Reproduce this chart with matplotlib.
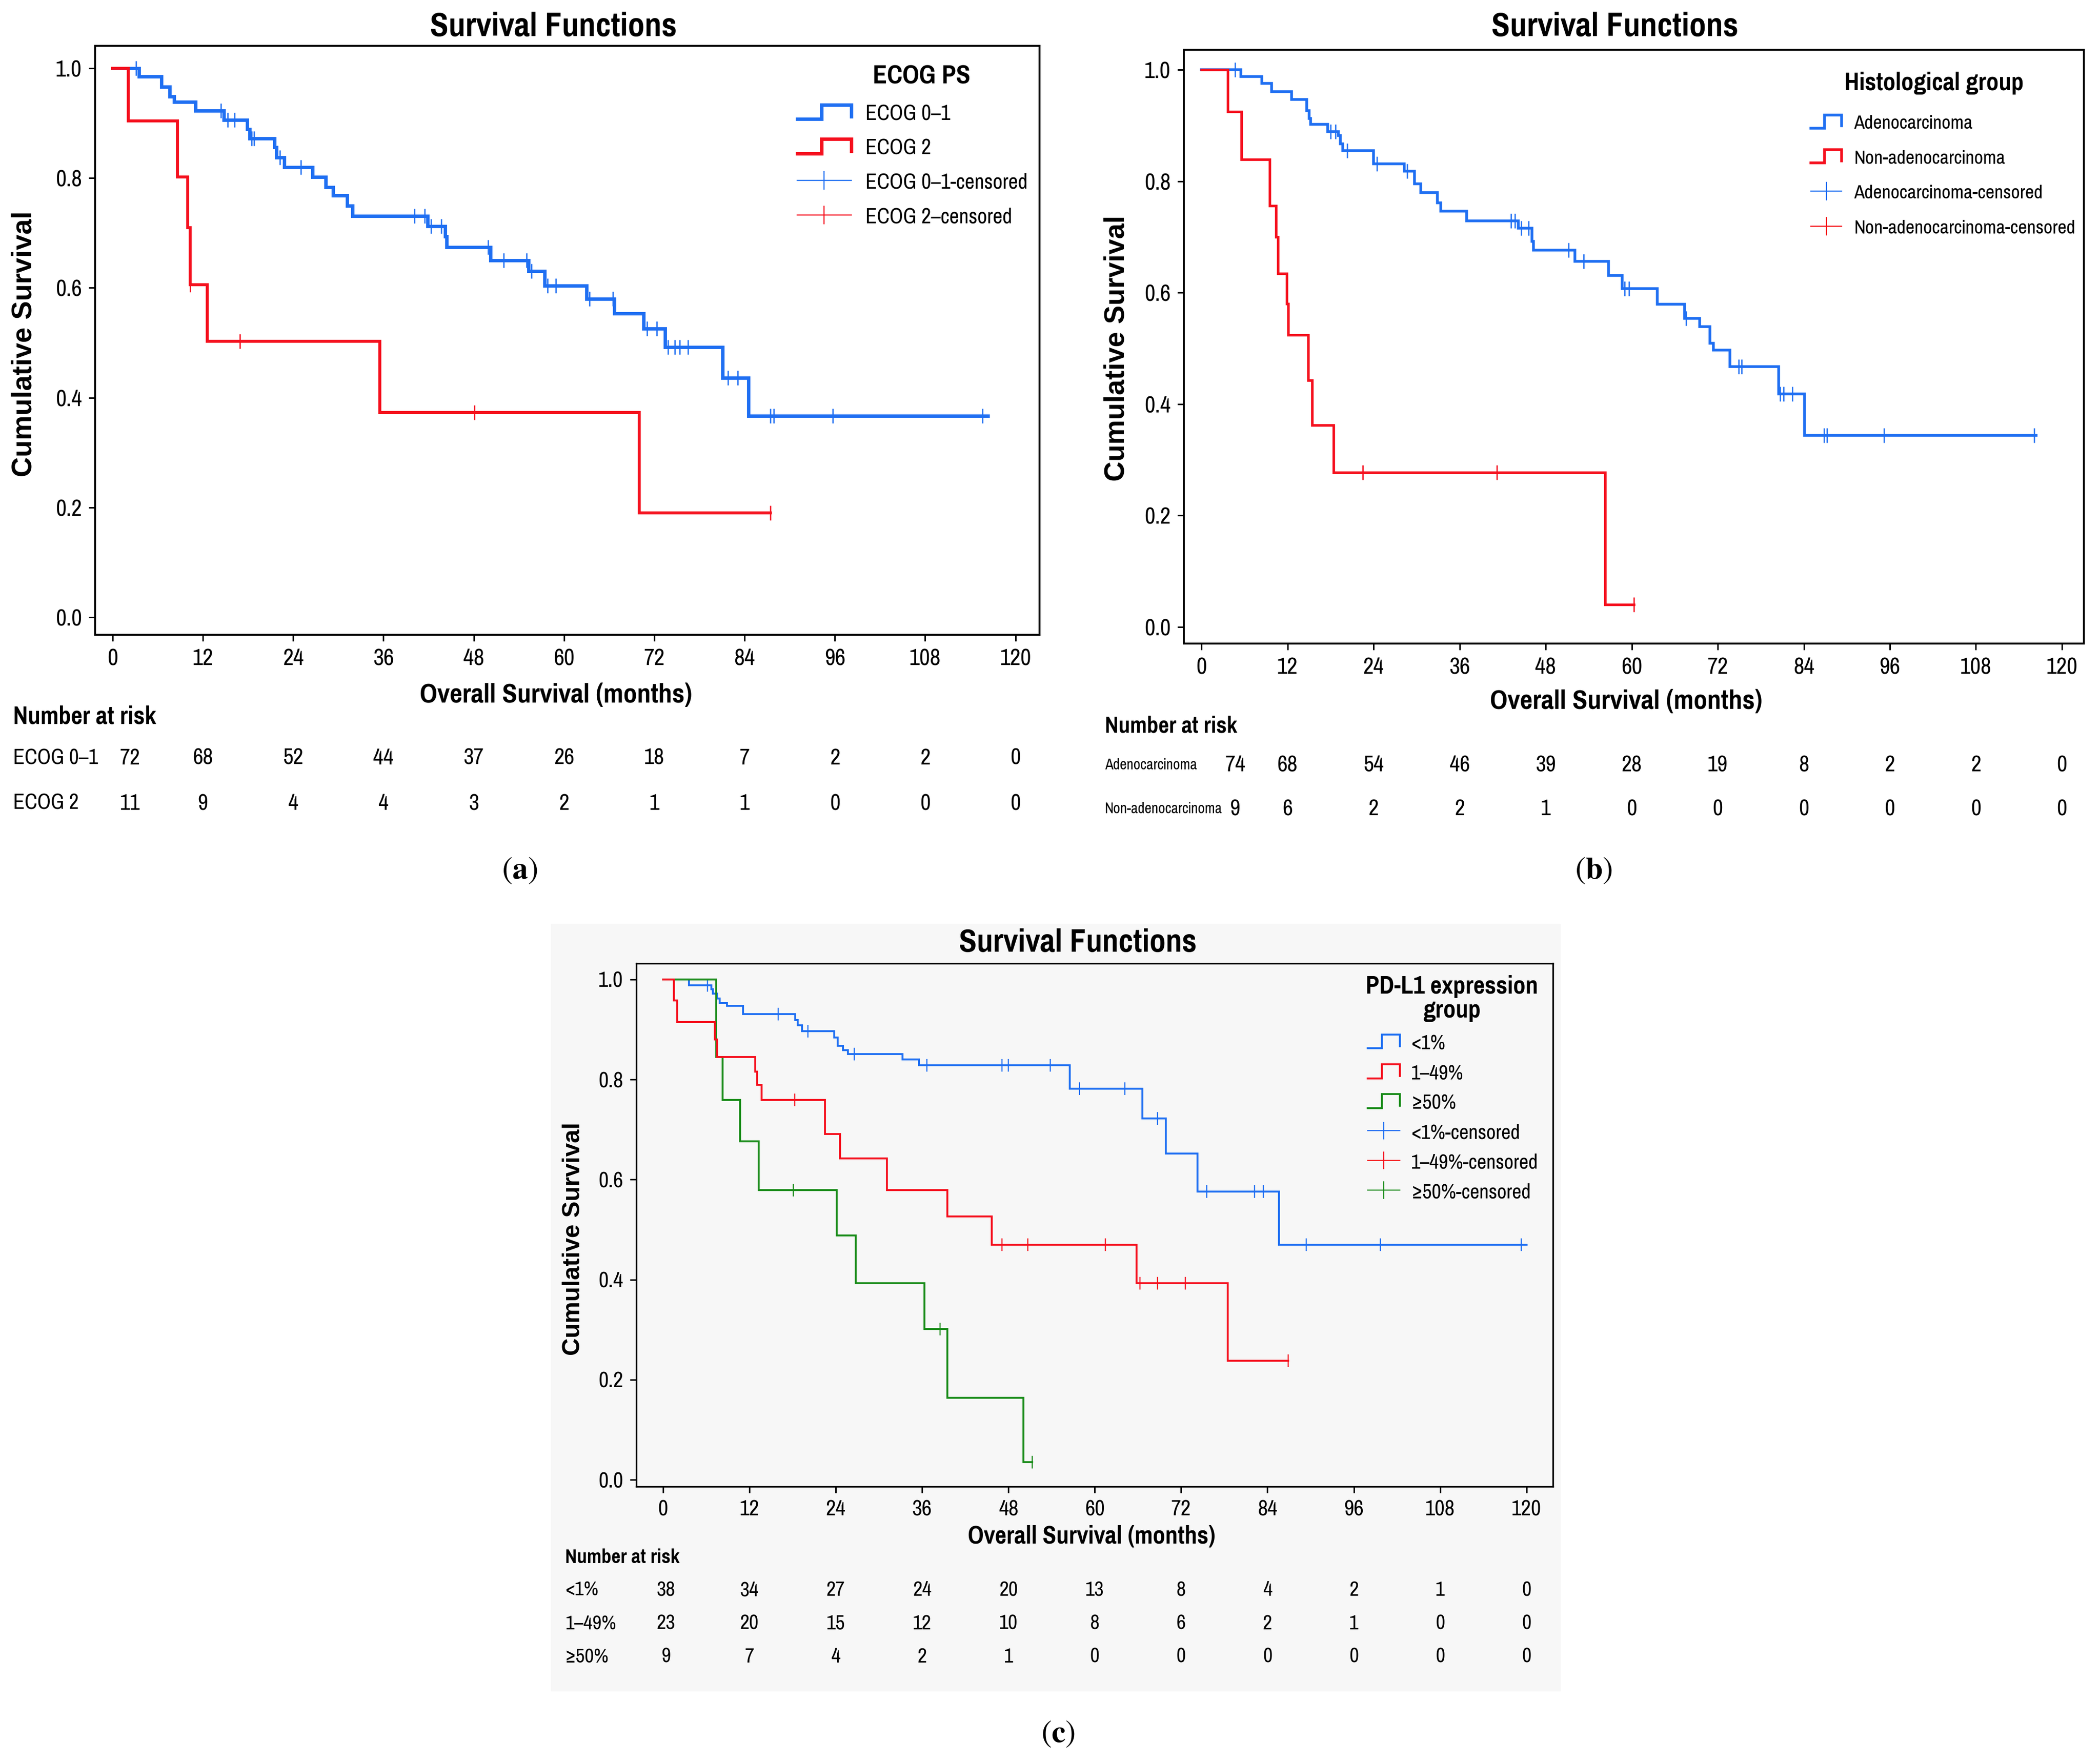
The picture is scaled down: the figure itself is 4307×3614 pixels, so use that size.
import numpy as np
import matplotlib
matplotlib.use("Agg")
import matplotlib.pyplot as plt
import matplotlib.transforms as mtransforms
from matplotlib import font_manager
from matplotlib.lines import Line2D
from matplotlib.patches import Rectangle
from matplotlib.legend_handler import HandlerBase

# ---------------- data ----------------
risk_months = [0, 12, 24, 36, 48, 60, 72, 84, 96, 108, 120]

# (a) ECOG PS
ecog01_times = [0, 3.5, 6.5, 7.6, 8.2, 11.0, 14.8, 17.9, 18.2, 21.5, 21.8, 22.8, 26.6, 28.3,
                29.3, 31.2, 31.9, 41.9, 44.2, 44.4, 50.2, 55.3, 57.4, 63.0, 66.7, 70.6, 73.4,
                81.1, 84.5]
ecog01_surv = [1.0, 0.985, 0.966, 0.949, 0.939, 0.923, 0.906, 0.889, 0.872, 0.856, 0.838, 0.820,
               0.802, 0.783, 0.768, 0.750, 0.731, 0.712, 0.694, 0.674, 0.650, 0.631, 0.604, 0.580,
               0.553, 0.526, 0.492, 0.436, 0.367]
ecog01_end = 116.3
ecog01_cens = [3.1, 14.4, 15.3, 16.2, 18.5, 18.8, 22.2, 25.0, 40.1, 41.5, 42.3, 43.7, 49.9, 52.0,
               55.0, 55.7, 57.8, 58.9, 63.4, 66.5, 71.0, 72.3, 73.8, 74.7, 75.4, 76.5, 81.8, 83.1,
               87.4, 87.9, 95.7, 115.6]

ecog2_times = [0, 2.05, 8.6, 10.0, 10.3, 12.6, 35.5, 70.0]
ecog2_surv = [1.0, 0.904, 0.802, 0.71, 0.606, 0.503, 0.373, 0.19]
ecog2_end = 87.4
ecog2_cens = [10.3, 16.9, 48.1, 87.4]

risk_ecog01 = [72, 68, 52, 44, 37, 26, 18, 7, 2, 2, 0]
risk_ecog2 = [11, 9, 4, 4, 3, 2, 1, 1, 0, 0, 0]

# (b) histological group
adeno_times = [0, 5.5, 8.4, 9.8, 12.6, 14.7, 15.0, 15.2, 17.6, 19.1, 19.4, 19.7, 24.0, 28.3,
               29.7, 30.6, 32.9, 33.4, 37.0, 44.2, 46.1, 46.3, 52.1, 56.8, 58.7, 63.6, 67.4,
               69.5, 70.9, 71.4, 73.7, 80.5, 84.1]
adeno_surv = [1.0, 0.988, 0.976, 0.961, 0.947, 0.927, 0.913, 0.902, 0.889, 0.882, 0.867, 0.855,
              0.831, 0.818, 0.795, 0.780, 0.761, 0.746, 0.729, 0.716, 0.692, 0.676, 0.656, 0.631,
              0.607, 0.579, 0.554, 0.539, 0.509, 0.497, 0.467, 0.418, 0.344]
adeno_end = 116.4
adeno_cens = [4.7, 18.0, 18.7, 20.3, 24.5, 28.7, 43.2, 43.7, 44.6, 45.6, 51.2, 53.3, 59.0, 59.6,
              67.6, 74.9, 75.3, 80.7, 81.2, 82.4, 86.8, 87.2, 95.2, 116.1]

nonadeno_times = [0, 3.65, 5.6, 9.5, 10.4, 10.7, 11.9, 12.1, 14.9, 15.4, 18.4, 56.3]
nonadeno_surv = [1.0, 0.925, 0.839, 0.756, 0.700, 0.634, 0.580, 0.524, 0.443, 0.362, 0.277, 0.04]
nonadeno_end = 60.3
nonadeno_cens = [22.5, 41.2, 60.3]

risk_adeno = [74, 68, 54, 46, 39, 28, 19, 8, 2, 2, 0]
risk_nonadeno = [9, 6, 2, 2, 1, 0, 0, 0, 0, 0, 0]

# (c) PD-L1 expression group
lt1_times = [0, 3.6, 6.7, 6.9, 7.5, 7.9, 8.9, 11.1, 18.4, 18.7, 19.3, 23.8, 24.3, 25.0, 25.7,
             33.3, 35.6, 56.5, 66.6, 69.9, 74.3, 85.6]
lt1_surv = [1.0, 0.988, 0.980, 0.972, 0.962, 0.953, 0.947, 0.931, 0.919, 0.908, 0.897, 0.884,
            0.867, 0.859, 0.851, 0.840, 0.828, 0.782, 0.722, 0.652, 0.576, 0.470]
lt1_end = 120.0
lt1_cens = [6.2, 16.0, 20.1, 26.6, 36.7, 47.1, 48.0, 53.8, 57.9, 64.2, 68.7, 75.6, 82.2, 83.4,
            89.4, 99.7, 119.3]

mid_times = [0, 1.5, 1.95, 7.2, 7.5, 12.8, 13.1, 13.7, 22.5, 24.6, 31.1, 39.5, 45.7, 65.8, 78.5]
mid_surv = [1.0, 0.958, 0.915, 0.880, 0.845, 0.816, 0.789, 0.759, 0.691, 0.642, 0.579, 0.526,
            0.470, 0.393, 0.238]
mid_end = 86.9
mid_cens = [18.3, 47.1, 50.7, 61.5, 66.3, 68.7, 72.6, 86.9]

high_times = [0, 7.4, 8.3, 10.7, 13.3, 24.1, 26.8, 36.3, 39.5, 50.1]
high_surv = [1.0, 0.845, 0.759, 0.676, 0.579, 0.488, 0.393, 0.301, 0.164, 0.035]
high_end = 51.3
high_cens = [18.1, 38.5, 51.3]

risk_lt1 = [38, 34, 27, 24, 20, 13, 8, 4, 2, 1, 0]
risk_mid = [23, 20, 15, 12, 10, 8, 6, 2, 1, 0, 0]
risk_high = [9, 7, 4, 2, 1, 0, 0, 0, 0, 0, 0]

# ---------------- styling ----------------
BLUE = "#1f6ff2"
RED = "#f5101e"
GREEN = "#1a8c1a"
W, H = 4307, 3614

names = {f.name for f in font_manager.fontManager.ttflist}
NARROW = "Liberation Sans"
for cand in ["Liberation Sans Narrow", "Arial Narrow", "Pragati Narrow", "Archivo Narrow",
             "PT Sans Narrow", "Roboto Condensed"]:
    if cand in names:
        NARROW = cand
        break
WIDE = "Liberation Sans"
plt.rcParams["font.family"] = [NARROW, "DejaVu Sans"]
plt.rcParams["mathtext.fontset"] = "stix"

fig = plt.figure(figsize=(W / 100, H / 100), dpi=100)


def fx(x):
    return x / W


def fy(y):
    return 1 - y / H


def box(l, t, r, b):
    return [fx(l), fy(b), fx(r) - fx(l), fy(t) - fy(b)]


class StepHandler(HandlerBase):
    # legend glyph shaped like a small survival step
    def create_artists(self, legend, orig_handle, xdescent, ydescent, width, height, fontsize, trans):
        x0, y0 = -xdescent, -ydescent
        xs = x0 + width * np.array([0.0, 0.45, 0.45, 1.0, 1.0])
        ys = y0 + height * np.array([0.05, 0.05, 0.95, 0.95, 0.2])
        ln = Line2D(xs, ys, color=orig_handle.get_color(), lw=orig_handle.get_linewidth(),
                    solid_joinstyle="miter")
        ln.set_transform(trans)
        return [ln]


def km(ax, times, surv, end, cens, color, lw, ms, mew):
    t = np.append(times, end)
    s = np.append(surv, surv[-1])
    ax.step(t, s, where="post", color=color, lw=lw, solid_joinstyle="miter")
    idx = np.searchsorted(times, cens, side="right") - 1
    ax.plot(cens, np.asarray(surv)[idx], ls="none", marker="|", ms=ms, mew=mew, color=color)


def style_axes(ax, xlim, ylim, tick_size, spine_w):
    ax.set_xlim(*xlim)
    ax.set_ylim(*ylim)
    ax.set_xticks(risk_months)
    ax.set_yticks([0.0, 0.2, 0.4, 0.6, 0.8, 1.0])
    ax.set_yticklabels(["0.0", "0.2", "0.4", "0.6", "0.8", "1.0"])
    ax.tick_params(direction="out", length=9.5, width=2.2, labelsize=tick_size, pad=10)
    for sp in ax.spines.values():
        sp.set_linewidth(spine_w)


def risk_table(ax, rows, labels, first_x, y_rows, label_x, label_size, num_size,
               header_xy, header_size):
    trans = mtransforms.blended_transform_factory(ax.transData, fig.transFigure)
    xs = [first_x] + risk_months[1:]
    fig.text(fx(header_xy[0]), fy(header_xy[1]), "Number at risk", fontsize=header_size,
             fontweight="bold", ha="left", va="center")
    for row, lab, yy in zip(rows, labels, y_rows):
        fig.text(fx(label_x), fy(yy), lab, fontsize=label_size, ha="left", va="center")
        for xv, n in zip(xs, row):
            ax.text(xv, fy(yy), str(n), transform=trans, fontsize=num_size,
                    ha="center", va="center")


def legend(ax, colors, labels, step_lw, cens_lw, ms, x, y, size, hl, pad, spacing):
    handles = [Line2D([], [], color=c, lw=step_lw) for c in colors]
    handles += [Line2D([], [], color=c, lw=cens_lw, marker="|", ms=ms, mew=cens_lw) for c in colors]
    hmap = {h: StepHandler() for h in handles[:len(colors)]}
    ax.legend(handles, labels, loc="upper left", bbox_to_anchor=(fx(x), fy(y)),
              bbox_transform=fig.transFigure, frameon=False, fontsize=size, numpoints=1,
              handlelength=hl, handletextpad=pad, labelspacing=spacing, borderpad=0,
              borderaxespad=0, handler_map=hmap)


# ---------------- panel (a) ----------------
ax_a = fig.add_axes(box(195, 94, 2132, 1302))
km(ax_a, ecog01_times, ecog01_surv, ecog01_end, ecog01_cens, BLUE, 5.0, 21, 1.9)
km(ax_a, ecog2_times, ecog2_surv, ecog2_end, ecog2_cens, RED, 4.4, 21, 1.9)
style_axes(ax_a, (-2.33, 123.2), (-0.032, 1.041), 37, 2.8)
fig.text(fx(1135), fy(55), "Survival Functions", fontsize=54, fontweight="bold",
         ha="center", va="center")
fig.text(fx(1140), fy(1426), "Overall Survival (months)", fontsize=44, fontweight="bold",
         ha="center", va="center")
fig.text(fx(50), fy(705), "Cumulative Survival", fontsize=41, fontweight="bold",
         family=WIDE, rotation=90, ha="center", va="center")
fig.text(fx(1890), fy(157), "ECOG PS", fontsize=42, fontweight="bold", ha="center", va="center")
legend(ax_a, [BLUE, RED], ["ECOG 0\u20131", "ECOG 2", "ECOG 0\u20131-censored", "ECOG 2\u2013censored"],
       5.0, 1.7, 28, 1635, 213, 34, 2.34, 0.62, 0.62)
risk_table(ax_a, [risk_ecog01, risk_ecog2], ["ECOG 0\u20131", "ECOG 2"], 2.3, [1555, 1648],
           27, 34, 36, (27, 1470), 40)
fig.text(fx(1066), fy(1786), r"$(\mathbf{a})$", fontsize=46, ha="center", va="center")

# ---------------- panel (b) ----------------
ax_b = fig.add_axes(box(2428, 102, 4274, 1320))
km(ax_b, adeno_times, adeno_surv, adeno_end, adeno_cens, BLUE, 4.0, 21, 1.9)
km(ax_b, nonadeno_times, nonadeno_surv, nonadeno_end, nonadeno_cens, RED, 3.8, 21, 1.9)
style_axes(ax_b, (-2.45, 123.06), (-0.030, 1.036), 37, 2.8)
fig.text(fx(3312), fy(55), "Survival Functions", fontsize=54, fontweight="bold",
         ha="center", va="center")
fig.text(fx(3335), fy(1439), "Overall Survival (months)", fontsize=44, fontweight="bold",
         ha="center", va="center")
fig.text(fx(2291), fy(714), "Cumulative Survival", fontsize=41, fontweight="bold",
         family=WIDE, rotation=90, ha="center", va="center")
fig.text(fx(3967), fy(170), "Histological group", fontsize=40, fontweight="bold",
         ha="center", va="center")
legend(ax_b, [BLUE, RED], ["Adenocarcinoma", "Non-adenocarcinoma",
                           "Adenocarcinoma-censored", "Non-adenocarcinoma-censored"],
       4.0, 1.7, 28, 3714, 234, 31, 1.47, 0.58, 0.8)
risk_table(ax_b, [risk_adeno, risk_nonadeno], ["Adenocarcinoma", "Non-adenocarcinoma"], 4.7,
           [1569, 1659], 2266, 24, 36, (2266, 1489), 37)
fig.text(fx(3269), fy(1786), r"$(\mathbf{b})$", fontsize=46, ha="center", va="center")

# ---------------- panel (c) ----------------
bg = "#f7f7f7"
fig.patches.append(Rectangle((fx(1130), fy(3468)), fx(3200) - fx(1130), fy(1895) - fy(3468),
                             transform=fig.transFigure, color=bg, zorder=-5))
ax_c = fig.add_axes(box(1305, 1976, 3185, 3049), zorder=2)
ax_c.set_facecolor(bg)
km(ax_c, lt1_times, lt1_surv, lt1_end, lt1_cens, BLUE, 2.8, 19, 1.7)
km(ax_c, high_times, high_surv, high_end, high_cens, GREEN, 2.8, 19, 1.7)
km(ax_c, mid_times, mid_surv, mid_end, mid_cens, RED, 2.8, 19, 1.7)
style_axes(ax_c, (-3.72, 123.68), (-0.0136, 1.032), 35, 2.4)
fig.text(fx(2211), fy(1934), "Survival Functions", fontsize=52, fontweight="bold",
         ha="center", va="center")
fig.text(fx(2239), fy(3151), "Overall Survival (months)", fontsize=40, fontweight="bold",
         ha="center", va="center")
fig.text(fx(1176), fy(2541), "Cumulative Survival", fontsize=36, fontweight="bold",
         family=WIDE, rotation=90, ha="center", va="center")
fig.text(fx(2978), fy(2048), "PD-L1 expression\ngroup", fontsize=40, fontweight="bold",
         ha="center", va="center", linespacing=1.05)
legend(ax_c, [BLUE, RED, GREEN], ["<1%", "1\u201349%", "\u226550%", "<1%-censored",
                                  "1\u201349%-censored", "\u226550%-censored"],
       2.8, 1.6, 26, 2805, 2120, 33, 1.43, 0.52, 0.48)
risk_table(ax_c, [risk_lt1, risk_mid, risk_high], ["<1%", "1\u201349%", "\u226550%"], 0.4,
           [3261, 3330, 3398], 1159, 32, 33, (1159, 3195), 32)
fig.text(fx(2170), fy(3557), r"$(\mathbf{c})$", fontsize=46, ha="center", va="center")

fig.savefig("out.png", dpi=100, facecolor="white")
